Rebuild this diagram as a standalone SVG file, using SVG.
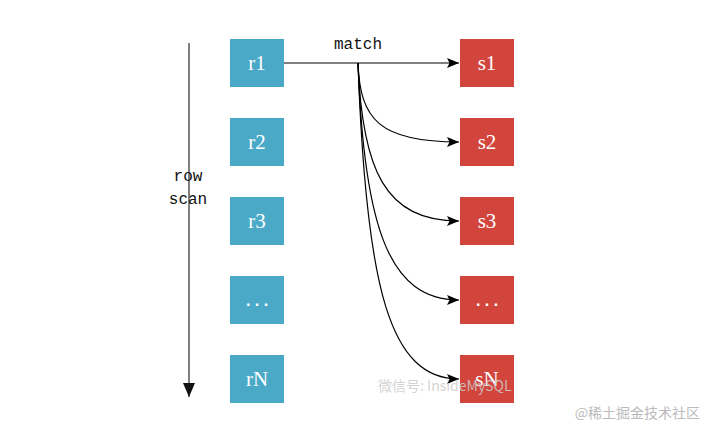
<svg xmlns="http://www.w3.org/2000/svg" width="707" height="427" viewBox="0 0 707 427">
<style>
.r{fill:#4aa9c6}
.s{fill:#d2453d}
.t{font-family:"Liberation Serif","DejaVu Serif",serif;font-size:21px;fill:#fff;text-anchor:middle}
.d{font-family:"Liberation Sans","DejaVu Sans",sans-serif;font-size:16px;font-weight:bold;fill:#fff;text-anchor:middle}
.m{font-family:"Liberation Mono","DejaVu Sans Mono",monospace;font-size:16px;fill:#111;text-anchor:middle}
.c{fill:none;stroke:#000;stroke-width:1.2}
</style>
<defs>
<marker id="ah" markerWidth="12" markerHeight="10" refX="12" refY="5" orient="auto" markerUnits="userSpaceOnUse">
<path d="M0,0 L12,5 L0,10 L2.5,5 Z" fill="#000"/>
</marker>
<marker id="ag" markerWidth="12" markerHeight="14" refX="6" refY="14" orient="0" markerUnits="userSpaceOnUse">
<path d="M0,0 L12,0 L6,14 Z" fill="#111"/>
</marker>
</defs>
<rect width="707" height="427" fill="#fff"/>
<g id="connectors">
<line x1="189" y1="43" x2="189" y2="397" stroke="#555" stroke-width="1.5" marker-end="url(#ag)"/>
<line class="c" x1="284" y1="63" x2="459" y2="63" marker-end="url(#ah)"/>
<path class="c" d="M358,63 C360,120 380,142 459,142" marker-end="url(#ah)"/>
<path class="c" d="M358,63 C362,170 385,221 459,221" marker-end="url(#ah)"/>
<path class="c" d="M358,63 C364,230 390,300 459,300" marker-end="url(#ah)"/>
<path class="c" d="M358,63 C366,290 390,379 459,379" marker-end="url(#ah)"/>
</g>
<g id="label-match"><text class="m" x="358" y="49">match</text></g>
<g id="label-rowscan"><text class="m" x="188" y="181">row</text><text class="m" x="188" y="204">scan</text></g>
<g id="r1"><rect class="r" x="230" y="39" width="54" height="48"/><text class="t" x="257" y="70">r1</text></g>
<g id="r2"><rect class="r" x="230" y="118" width="54" height="48"/><text class="t" x="257" y="149">r2</text></g>
<g id="r3"><rect class="r" x="230" y="197" width="54" height="48"/><text class="t" x="257" y="228">r3</text></g>
<g id="rdots"><rect class="r" x="230" y="276" width="54" height="48"/><text class="d" x="257" y="306">. . .</text></g>
<g id="rN"><rect class="r" x="230" y="355" width="54" height="48"/><text class="t" x="257" y="386">rN</text></g>
<g id="s1"><rect class="s" x="460" y="39" width="54" height="48"/><text class="t" x="487" y="70">s1</text></g>
<g id="s2"><rect class="s" x="460" y="118" width="54" height="48"/><text class="t" x="487" y="149">s2</text></g>
<g id="s3"><rect class="s" x="460" y="197" width="54" height="48"/><text class="t" x="487" y="228">s3</text></g>
<g id="sdots"><rect class="s" x="460" y="276" width="54" height="48"/><text class="d" x="487" y="306">. . .</text></g>
<g id="sN"><rect class="s" x="460" y="355" width="54" height="48"/><text class="t" x="487" y="386">sN</text></g>
<g id="watermarks">
<text x="378" y="391" font-family="Noto Sans CJK SC,sans-serif" font-size="14" fill="#ccc" fill-opacity="0.85">微信号: InsideMySQL</text>
<text x="700" y="418" font-family="Noto Sans CJK SC,sans-serif" font-size="14" fill="#bbb" text-anchor="end">@稀土掘金技术社区</text>
</g>
</svg>
